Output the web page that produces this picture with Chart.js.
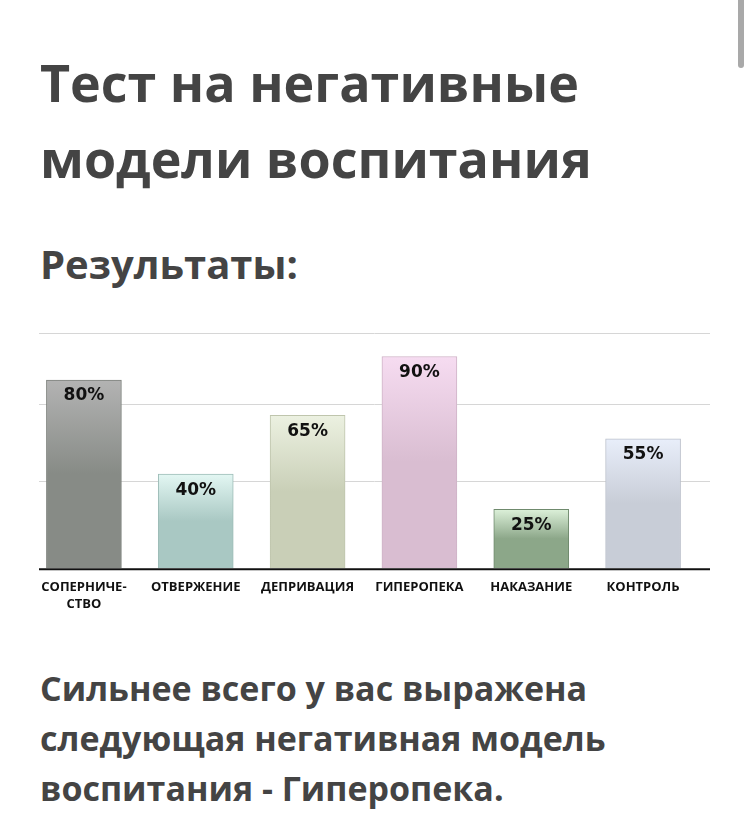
<!DOCTYPE html>
<html lang="ru">
<head>
<meta charset="utf-8">
<title>Тест на негативные модели воспитания</title>
<script src="https://cdn.jsdelivr.net/npm/chart.js@4/dist/chart.umd.min.js"></script>
<style>
    html, body {
        margin: 0;
        padding: 0;
        background: #fff;
        width: 749px;
        height: 839px;
        overflow: hidden;
    }
    body {
        position: relative;
        font-family: "Open Sans", sans-serif;
        font-weight: 700;
        color: #444;
    }
    .title {
        position: absolute;
        left: 40px;
        top: 44px;
        margin: 0;
        font-size: 52px;
        line-height: 76px;
        font-weight: 700;
    }
    .subtitle {
        position: absolute;
        left: 40px;
        top: 239px;
        margin: 0;
        font-size: 40px;
        line-height: 50px;
        font-weight: 700;
    }
    .chart-box {
        position: absolute;
        left: 0;
        top: 320px;
        width: 749px;
        height: 300px;
    }
    .result {
        position: absolute;
        left: 40px;
        top: 663px;
        margin: 0;
        font-size: 34px;
        line-height: 50px;
        font-weight: 700;
    }
    .scrollbar {
        position: absolute;
        left: 738px;
        top: 0;
        width: 6px;
        height: 68px;
        background: #a9a9a9;
        border-radius: 0 0 3px 3px;
    }
</style>
</head>
<body>
<h1 class="title">Тест на негативные<br>модели воспитания</h1>
<h2 class="subtitle">Результаты:</h2>
<div class="chart-box"><canvas id="chart"></canvas></div>
<p class="result">Сильнее всего у вас выражена<br>следующая негативная модель<br>воспитания - Гиперопека.</p>
<div class="scrollbar"></div>

<script>
// --- Data ---
const categories = [
    ['СОПЕРНИЧЕ-', 'СТВО'],
    'ОТВЕРЖЕНИЕ',
    'ДЕПРИВАЦИЯ',
    'ГИПЕРОПЕКА',
    'НАКАЗАНИЕ',
    'КОНТРОЛЬ'
];
const values = [80, 40, 65, 90, 25, 55];
const gridValues = [37, 70, 100];

// bar colours: light at the top, fading to the base colour
const topColors = ['#b3b3b3', '#e3f7f3', '#ecf1e1', '#f6dcf1', '#dcf0d9', '#e8eefa'];
const bottomColors = ['#878b86', '#a9c8c3', '#c9cfb7', '#d9bdd1', '#8ca789', '#c8cdd7'];
const borderColors = ['#7d817c', '#9dbcb7', '#bfc5ad', '#cfb3c7', '#6f8a6d', '#bcc1cc'];

function barFill(context) {
    const chart = context.chart;
    const i = context.dataIndex;
    if (!chart.chartArea || !chart.scales.y) return bottomColors[i];
    const y = chart.scales.y;
    const top = y.getPixelForValue(values[i]);
    const base = y.getPixelForValue(0);
    const g = chart.ctx.createLinearGradient(0, top, 0, base);
    g.addColorStop(0, topColors[i]);
    g.addColorStop(0.5, bottomColors[i]);
    g.addColorStop(1, bottomColors[i]);
    return g;
}

// gridlines and the base line are a bit wider than the bars' band
const frame = {
    id: 'frame',
    beforeDatasetsDraw(chart) {
        const { ctx, chartArea } = chart;
        const y = chart.scales.y;
        ctx.save();
        ctx.strokeStyle = '#d6d6d6';
        ctx.lineWidth = 1;
        gridValues.forEach(v => {
            const py = Math.round(y.getPixelForValue(v)) + 0.5;
            ctx.beginPath();
            ctx.moveTo(chartArea.left + 11, py);
            ctx.lineTo(chartArea.right + 11, py);
            ctx.stroke();
        });
        ctx.restore();
    },
    afterDatasetsDraw(chart) {
        const { ctx, chartArea } = chart;
        const y = chart.scales.y;
        ctx.save();
        // base line
        const py = y.getPixelForValue(0) + 1;
        ctx.strokeStyle = '#111';
        ctx.lineWidth = 2;
        ctx.beginPath();
        ctx.moveTo(chartArea.left + 11, py);
        ctx.lineTo(chartArea.right + 11, py);
        ctx.stroke();

        // value labels inside the bars
        ctx.fillStyle = '#111';
        ctx.font = 'bold 17px "DejaVu Sans"';
        ctx.textAlign = 'center';
        ctx.textBaseline = 'middle';
        chart.getDatasetMeta(0).data.forEach((bar, i) => {
            ctx.fillText(values[i] + '%', bar.x, bar.y + 16);
        });
        ctx.restore();
    }
};

new Chart(document.getElementById('chart'), {
    type: 'bar',
    data: {
        labels: categories,
        datasets: [{
            data: values,
            backgroundColor: barFill,
            borderColor: borderColors,
            borderWidth: 1,
            barThickness: 75
        }]
    },
    options: {
        responsive: true,
        maintainAspectRatio: false,
        animation: false,
        layout: {
            padding: { left: 28, right: 50, top: 13, bottom: 4 }
        },
        plugins: {
            legend: { display: false },
            tooltip: { enabled: false }
        },
        scales: {
            x: {
                grid: { display: false },
                border: { display: false },
                ticks: {
                    color: '#111',
                    padding: 3,
                    maxRotation: 0,
                    autoSkip: false,
                    font: { family: '"Open Sans"', weight: 'bold', size: 13, lineHeight: 1.3 }
                }
            },
            y: {
                display: false,
                min: 0,
                max: 100
            }
        }
    },
    plugins: [frame]
});
</script>
</body>
</html>
